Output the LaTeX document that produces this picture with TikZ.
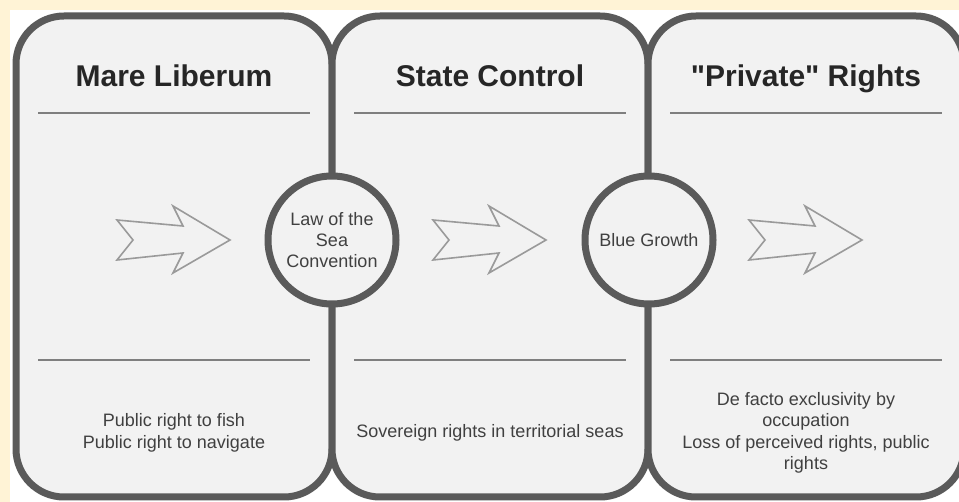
\documentclass[tikz,border=0pt]{standalone}
\usepackage{fontspec}
\setmainfont{Liberation Sans}[Ligatures=TeXOff]
\definecolor{cream}{HTML}{FFF3D6}
\definecolor{bordergray}{HTML}{5A5A5A}
\definecolor{panelgray}{HTML}{F2F2F2}
\definecolor{titlecol}{HTML}{262626}
\definecolor{bodycol}{HTML}{404040}
\definecolor{rulecol}{HTML}{7F7F7F}
\definecolor{arrowcol}{HTML}{9A9A9A}
\begin{document}
\begin{tikzpicture}[x=1pt,y=-1pt,
  panel/.style={draw=bordergray,line width=7pt,fill=panelgray,rounded corners=48pt},
  title/.style={font=\fontsize{30}{36}\selectfont\bfseries,text=titlecol,inner sep=0pt},
  body/.style={font=\fontsize{18}{21.5}\selectfont,text=bodycol,align=center,inner sep=0pt},
  rule/.style={draw=rulecol,line width=2pt},
  hub/.style={circle,draw=bordergray,line width=7pt,fill=panelgray,minimum size=128pt,inner sep=0pt,align=center,font=\fontsize{18}{21}\selectfont,text=bodycol},
  blockarrow/.style={draw=arrowcol,line width=1.6pt,line join=miter}]
\useasboundingbox (0,0) rectangle (959,502);
\clip (0,0) rectangle (959,502);
\fill[cream] (0,0) rectangle (959,502);
\fill[white] (10,10) rectangle (959,502);
% panels
\draw[panel] (16,16) rectangle (332,497);
\draw[panel] (332,16) rectangle (648,497);
\draw[panel] (648,16) rectangle (964,497);
% titles
\node[title,anchor=base] (t1) at (174,87) {Mare Liberum};
\node[title,anchor=base] (t2) at (490,87) {State Control};
\node[title,anchor=base] (t3) at (806,87) {"Private" Rights};
% rules
\foreach \x in {0,316,632}{
  \draw[rule] (38+\x,113) -- (310+\x,113);
  \draw[rule] (38+\x,360) -- (310+\x,360);
}
% block arrows
\foreach \x in {0,316,632}{
  \begin{scope}[xshift=\x pt]
  \draw[blockarrow] (117,220) -- (133,240) -- (117,260) -- (183,253) -- (173,273)
     -- (230,240) -- (173,206) -- (183,226) -- cycle;
  \end{scope}
}
% circles
\node[hub] (c1) at (332,240) {Law of the\\Sea\\Convention};
\node[hub] (c2) at (649,240) {Blue Growth};
% body texts
\node[body] (b1) at (174,433) {Public right to fish\\Public right to navigate};
\node[body] (b2) at (490,433) {Sovereign rights in territorial seas};
\node[body] (b3) at (806,433) {De facto exclusivity by\\occupation\\Loss of perceived rights, public\\rights};
\end{tikzpicture}
\end{document}
